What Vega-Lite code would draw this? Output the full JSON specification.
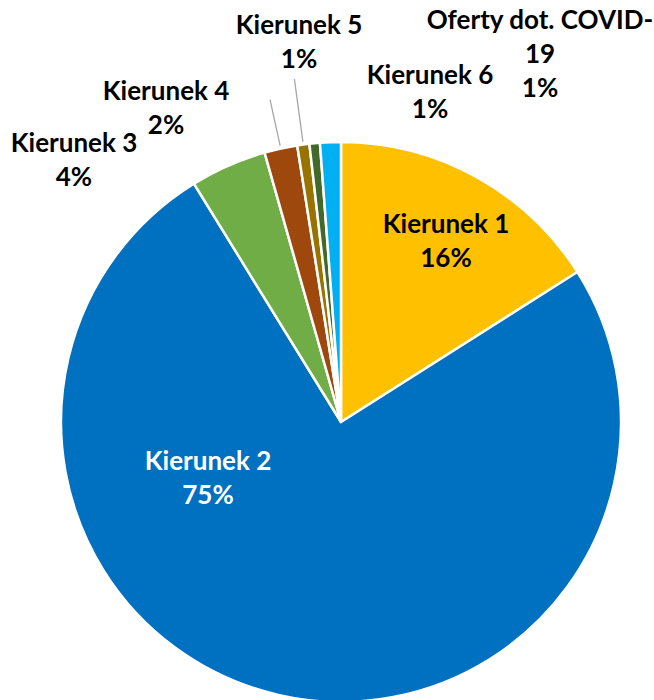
{
  "$schema": "https://vega.github.io/schema/vega-lite/v6.json",
  "width": 560,
  "height": 560,
  "autosize": {"type": "none"},
  "padding": {"left": 61, "top": 142, "right": 33, "bottom": 0},
  "background": "white",
  "config": {"view": {"stroke": null}},
  "data": {
    "values": [
      {"name": "Kierunek 1", "share": 16.0, "label": "Kierunek 1\n16%", "order": 1},
      {"name": "Kierunek 2", "share": 75.2, "label": "Kierunek 2\n75%", "order": 2},
      {"name": "Kierunek 3", "share": 4.4, "label": "Kierunek 3\n4%", "order": 3},
      {"name": "Kierunek 4", "share": 1.9, "label": "Kierunek 4\n2%", "order": 4},
      {"name": "Kierunek 5", "share": 0.7, "label": "Kierunek 5\n1%", "order": 5},
      {"name": "Kierunek 6", "share": 0.6, "label": "Kierunek 6\n1%", "order": 6},
      {"name": "Oferty dot. COVID-19", "share": 1.2, "label": "Oferty dot. COVID-\n19\n1%", "order": 7}
    ]
  },
  "encoding": {
    "theta": {"field": "share", "type": "quantitative", "stack": true},
    "order": {"field": "order", "type": "quantitative"}
  },
  "layer": [
    {
      "mark": {"type": "arc", "stroke": "white", "strokeWidth": 2.5},
      "encoding": {
        "color": {
          "field": "name",
          "type": "nominal",
          "legend": null,
          "scale": {
            "domain": ["Kierunek 1", "Kierunek 2", "Kierunek 3", "Kierunek 4", "Kierunek 5", "Kierunek 6", "Oferty dot. COVID-19"],
            "range": ["#FFC000", "#0070C0", "#70AD47", "#9E480E", "#997300", "#43682B", "#00B0F0"]
          }
        }
      }
    },
    {
      "mark": {"type": "arc", "radius": 330, "radius2": 283, "padAngle": 0.5, "fillOpacity": 0, "stroke": "#A6A6A6", "strokeWidth": 1.3},
      "encoding": {"strokeOpacity": {"condition": {"test": "datum.name === 'Kierunek 4'", "value": 1}, "value": 0}}
    },
    {
      "mark": {"type": "arc", "radius": 346, "radius2": 283, "padAngle": 0.5, "fillOpacity": 0, "stroke": "#A6A6A6", "strokeWidth": 1.3},
      "encoding": {"strokeOpacity": {"condition": {"test": "datum.name === 'Kierunek 5'", "value": 1}, "value": 0}}
    },
    {
      "mark": {"type": "text", "radius": 223.2, "thetaOffset": -0.0129, "font": "Lato", "fontWeight": "bold", "fontSize": 26, "lineHeight": 34, "lineBreak": "\n", "align": "center", "baseline": "middle", "color": "#000000"},
      "encoding": {"text": {"condition": {"test": "datum.name === 'Kierunek 1'", "field": "label"}, "value": ""}}
    },
    {
      "mark": {"type": "text", "radius": 138.9, "thetaOffset": 1.052, "font": "Lato", "fontWeight": "bold", "fontSize": 26, "lineHeight": 34, "lineBreak": "\n", "align": "center", "baseline": "middle", "color": "#FFFFFF"},
      "encoding": {"text": {"condition": {"test": "datum.name === 'Kierunek 2'", "field": "label"}, "value": ""}}
    },
    {
      "mark": {"type": "text", "radius": 385.5, "thetaOffset": -0.3505, "font": "Lato", "fontWeight": "bold", "fontSize": 26, "lineHeight": 34, "lineBreak": "\n", "align": "center", "baseline": "middle", "color": "#000000"},
      "encoding": {"text": {"condition": {"test": "datum.name === 'Kierunek 3'", "field": "label"}, "value": ""}}
    },
    {
      "mark": {"type": "text", "radius": 373.5, "thetaOffset": -0.2707, "font": "Lato", "fontWeight": "bold", "fontSize": 26, "lineHeight": 34, "lineBreak": "\n", "align": "center", "baseline": "middle", "color": "#000000"},
      "encoding": {"text": {"condition": {"test": "datum.name === 'Kierunek 4'", "field": "label"}, "value": ""}}
    },
    {
      "mark": {"type": "text", "radius": 398.2, "thetaOffset": 0.0295, "font": "Lato", "fontWeight": "bold", "fontSize": 26, "lineHeight": 34, "lineBreak": "\n", "align": "center", "baseline": "middle", "color": "#000000"},
      "encoding": {"text": {"condition": {"test": "datum.name === 'Kierunek 5'", "field": "label"}, "value": ""}}
    },
    {
      "mark": {"type": "text", "radius": 357.3, "thetaOffset": 0.346, "font": "Lato", "fontWeight": "bold", "fontSize": 26, "lineHeight": 34, "lineBreak": "\n", "align": "center", "baseline": "middle", "color": "#000000"},
      "encoding": {"text": {"condition": {"test": "datum.name === 'Kierunek 6'", "field": "label"}, "value": ""}}
    },
    {
      "mark": {"type": "text", "radius": 447.7, "thetaOffset": 0.4983, "font": "Lato", "fontWeight": "bold", "fontSize": 26, "lineHeight": 34, "lineBreak": "\n", "align": "center", "baseline": "middle", "color": "#000000"},
      "encoding": {"text": {"condition": {"test": "datum.name === 'Oferty dot. COVID-19'", "field": "label"}, "value": ""}}
    }
  ]
}
